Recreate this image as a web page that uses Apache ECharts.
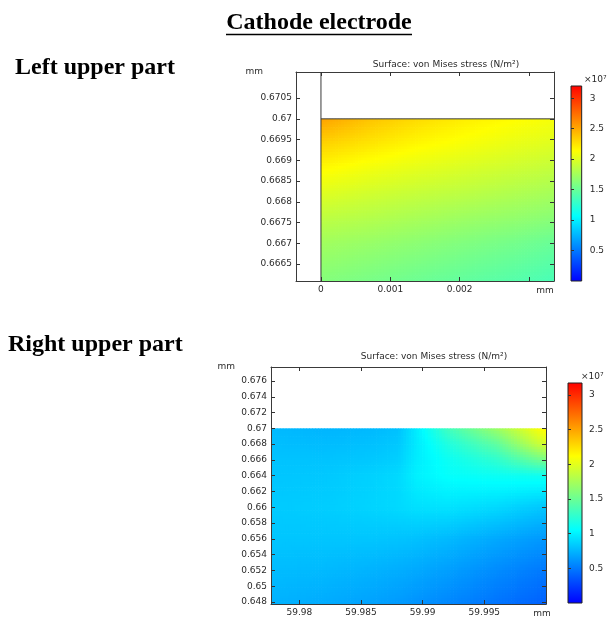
<!DOCTYPE html>
<html>
<head>
<meta charset="utf-8">
<script src="https://cdn.jsdelivr.net/npm/echarts@6/dist/echarts.min.js"></script>
<style>
  html, body { margin: 0; padding: 0; background: #ffffff; }
  #chart { width: 607px; height: 618px; }
</style>
</head>
<body>
<div id="chart"></div>
<script>
// Rainbow colour table used for the stress field and its colour bars
const colorStops = ['#0000ff', '#00ffff', '#ffff00', '#ff0000'];

// ---- Left upper part: von Mises stress (x10^7 N/m^2) on a node grid ----
const leftX = [0, 0.0007, 0.0014, 0.0021, 0.0028, 0.00336];           // mm
const leftY = [0.67, 0.6694, 0.6688, 0.6682, 0.6676, 0.667, 0.66609];  // mm
const leftStress = [
  [2.52, 2.38, 2.28, 2.20, 2.14, 2.10],
  [2.32, 2.24, 2.16, 2.10, 2.04, 2.00],
  [2.15, 2.08, 2.02, 1.97, 1.92, 1.88],
  [2.00, 1.94, 1.89, 1.85, 1.80, 1.76],
  [1.86, 1.82, 1.77, 1.72, 1.68, 1.64],
  [1.74, 1.70, 1.65, 1.60, 1.55, 1.50],
  [1.62, 1.57, 1.52, 1.47, 1.42, 1.37]
];
const leftXRange = [-0.00036, 0.00336];
const leftYRange = [0.66609, 0.67113];
const leftXTicks = [0, 0.001, 0.002, 0.003];
const leftXLabels = [0, 0.001, 0.002];
const leftYTicks = [0.6665, 0.667, 0.6675, 0.668, 0.6685, 0.669, 0.6695, 0.67, 0.6705];
const leftColorMax = 3.2;
// outline of the electrode corner
const leftEdgeVertical = [[0, 0.67113], [0, 0.66609]];
const leftEdgeTop = [[0, 0.67], [0.00336, 0.67]];

// ---- Right upper part ----
const rightX = [59.9777, 59.982, 59.986, 59.988, 59.9895, 59.992, 59.996, 60.0];
const rightY = [0.67, 0.668, 0.666, 0.664, 0.66, 0.656, 0.652, 0.64775];
const rightStress = [
  [0.77, 0.75, 0.77, 0.80, 0.98, 1.32, 1.70, 2.15],
  [0.79, 0.78, 0.80, 0.83, 0.97, 1.18, 1.45, 1.95],
  [0.81, 0.81, 0.83, 0.86, 0.98, 1.10, 1.25, 1.55],
  [0.82, 0.83, 0.87, 0.90, 1.00, 1.07, 1.10, 1.12],
  [0.84, 0.85, 0.88, 0.90, 0.93, 0.94, 0.90, 0.82],
  [0.82, 0.82, 0.82, 0.81, 0.80, 0.77, 0.70, 0.63],
  [0.78, 0.77, 0.74, 0.72, 0.70, 0.66, 0.58, 0.50],
  [0.74, 0.71, 0.67, 0.64, 0.61, 0.56, 0.48, 0.40]
];
const rightXRange = [59.9777, 60.0];
const rightYRange = [0.64775, 0.67777];
const rightXTicks = [59.98, 59.985, 59.99, 59.995, 60];
const rightXLabels = [59.98, 59.985, 59.99, 59.995];
const rightYTicks = [0.648, 0.65, 0.652, 0.654, 0.656, 0.658, 0.66, 0.662, 0.664, 0.666, 0.668, 0.67, 0.672, 0.674, 0.676];
const rightColorMax = 3.17;

// colour bar ticks (x10^7 N/m^2)
const colorTicks = [0.5, 1, 1.5, 2, 2.5, 3];

const labelColor = '#2a2a2a';
const smallFont = 'DejaVu Sans';

// split the node grid into cells: [x0, y0, x1, y1, v00, v10, v01, v11]
function buildCells(xs, ys, vals) {
  const cells = [];
  for (let r = 0; r < ys.length - 1; r++) {
    for (let c = 0; c < xs.length - 1; c++) {
      cells.push([xs[c], ys[r], xs[c + 1], ys[r + 1],
        vals[r][c], vals[r][c + 1], vals[r + 1][c], vals[r + 1][c + 1]]);
    }
  }
  return cells;
}

// shade each cell smoothly between its corner values
function fieldRenderer(vmax) {
  return function (params, api) {
    const p0 = api.coord([api.value(0), api.value(1)]);
    const p1 = api.coord([api.value(2), api.value(3)]);
    const a = api.value(4), b = api.value(5), c = api.value(6), d = api.value(7);
    const w = p1[0] - p0[0], h = p1[1] - p0[1];
    const nx = Math.max(1, Math.ceil(Math.abs(w) / 3));
    const ny = Math.max(1, Math.ceil(Math.abs(h) / 3));
    const children = [];
    for (let i = 0; i < nx; i++) {
      for (let j = 0; j < ny; j++) {
        const u = (i + 0.5) / nx, v = (j + 0.5) / ny;
        const val = a * (1 - u) * (1 - v) + b * u * (1 - v) + c * (1 - u) * v + d * u * v;
        children.push({
          type: 'rect',
          shape: { x: p0[0] + w * i / nx, y: p0[1] + h * j / ny, width: w / nx + 0.7, height: h / ny + 0.7 },
          style: { fill: echarts.color.lerp(Math.max(0, Math.min(1, val / vmax)), colorStops) }
        });
      }
    }
    return { type: 'group', children: children };
  };
}

function colorBarRenderer(params, api) {
  const p0 = api.coord([api.value(0), api.value(1)]);
  const p1 = api.coord([api.value(2), api.value(3)]);
  return {
    type: 'rect',
    shape: { x: p0[0], y: p1[1], width: p1[0] - p0[0], height: p0[1] - p1[1] },
    style: {
      fill: new echarts.graphic.LinearGradient(0, 1, 0, 0,
        colorStops.map((col, k) => ({ offset: k / (colorStops.length - 1), color: col }))),
      stroke: '#222', lineWidth: 1
    }
  };
}

const fmt = n => v => String(+(+v).toFixed(n));

function plotAxes(gridIndex, xr, yr, xTicks, xLabels, yTicks, xDigits, yDigits, xNameGap, yNamePad) {
  const line = { show: true, onZero: false, lineStyle: { color: '#3a3a3a', width: 1 } };
  const tick = vals => ({ show: true, inside: true, length: 4, customValues: vals, lineStyle: { color: '#333' } });
  return {
    x: [
      { type: 'value', gridIndex, position: 'bottom', min: xr[0], max: xr[1], z: 10,
        axisLine: line, axisTick: tick(xTicks), splitLine: { show: false },
        axisLabel: { customValues: xLabels, formatter: fmt(xDigits), color: labelColor, fontSize: 9, fontFamily: smallFont, margin: 4 },
        name: 'mm', nameLocation: 'end', nameGap: xNameGap,
        nameTextStyle: { color: labelColor, fontSize: 9, fontFamily: smallFont, align: 'center', verticalAlign: 'top', padding: [5, 0, 0, 0] } },
      { type: 'value', gridIndex, position: 'top', min: xr[0], max: xr[1], z: 10,
        axisLine: line, axisTick: tick(xTicks), axisLabel: { show: false }, splitLine: { show: false } }
    ],
    y: [
      { type: 'value', gridIndex, position: 'left', min: yr[0], max: yr[1], z: 10,
        axisLine: line, axisTick: tick(yTicks), splitLine: { show: false },
        axisLabel: { customValues: yTicks, formatter: fmt(yDigits), color: labelColor, fontSize: 9, fontFamily: smallFont, margin: 4 },
        name: 'mm', nameLocation: 'end', nameGap: 0,
        nameTextStyle: { color: labelColor, fontSize: 9, fontFamily: smallFont, align: 'right', verticalAlign: 'middle', padding: [0, yNamePad, 0, 0] } },
      { type: 'value', gridIndex, position: 'right', min: yr[0], max: yr[1], z: 10,
        axisLine: line, axisTick: tick(yTicks), axisLabel: { show: false }, splitLine: { show: false } }
    ]
  };
}

function barAxes(gridIndex, vmax, margin) {
  return {
    x: [{ type: 'value', gridIndex, min: 0, max: 1, show: false }],
    y: [{ type: 'value', gridIndex, position: 'right', min: 0, max: vmax, z: 10,
      axisLine: { show: false }, splitLine: { show: false },
      axisTick: { show: true, length: 3, customValues: colorTicks, lineStyle: { color: '#333' } },
      axisLabel: { customValues: colorTicks, color: labelColor, fontSize: 9, fontFamily: smallFont, margin: margin } }]
  };
}

const a0 = plotAxes(0, leftXRange, leftYRange, leftXTicks, leftXLabels, leftYTicks, 3, 4, -9, 33);
const a1 = barAxes(1, leftColorMax, 8);
const a2 = plotAxes(2, rightXRange, rightYRange, rightXTicks, rightXLabels, rightYTicks, 3, 3, -4, 36);
const a3 = barAxes(3, rightColorMax, 7);

const xAxes = [...a0.x, ...a1.x, ...a2.x, ...a3.x];   // indices 0,1 | 2 | 3,4 | 5
const yAxes = [...a0.y, ...a1.y, ...a2.y, ...a3.y];   // indices 0,1 | 2 | 3,4 | 5

const headingFont = 'bold 24px "Liberation Serif", "Times New Roman", serif';
const titleText = 'Surface: von Mises stress (N/m²)';

const option = {
  animation: false,
  backgroundColor: '#ffffff',
  grid: [
    { left: 296, top: 72, width: 258, height: 209 },
    { left: 571, top: 86, width: 14, height: 195 },
    { left: 271, top: 367, width: 275, height: 238 },
    { left: 568, top: 383, width: 14, height: 220 }
  ],
  xAxis: xAxes,
  yAxis: yAxes,
  series: [
    { type: 'custom', xAxisIndex: 0, yAxisIndex: 0, z: 2, silent: true,
      renderItem: fieldRenderer(leftColorMax), data: buildCells(leftX, leftY, leftStress) },
    { type: 'line', xAxisIndex: 0, yAxisIndex: 0, z: 5, symbol: 'none', silent: true,
      lineStyle: { color: '#3a3a3a', width: 1 }, data: leftEdgeVertical },
    { type: 'line', xAxisIndex: 0, yAxisIndex: 0, z: 5, symbol: 'none', silent: true,
      lineStyle: { color: '#3a3a3a', width: 1 }, data: leftEdgeTop },
    { type: 'custom', xAxisIndex: 2, yAxisIndex: 2, z: 2, silent: true,
      renderItem: colorBarRenderer, data: [[0, 0, 1, leftColorMax]] },
    { type: 'custom', xAxisIndex: 3, yAxisIndex: 3, z: 2, silent: true,
      renderItem: fieldRenderer(rightColorMax), data: buildCells(rightX, rightY, rightStress) },
    { type: 'custom', xAxisIndex: 5, yAxisIndex: 5, z: 2, silent: true,
      renderItem: colorBarRenderer, data: [[0, 0, 1, rightColorMax]] }
  ],
  graphic: [
    { type: 'text', x: 319, y: 23, style: { text: 'Cathode electrode', font: headingFont, fill: '#000', align: 'center', verticalAlign: 'middle' } },
    { type: 'line', shape: { x1: 226, y1: 34.5, x2: 412, y2: 34.5 }, style: { stroke: '#000', lineWidth: 1.5 } },
    { type: 'text', x: 15, y: 68, style: { text: 'Left upper part', font: headingFont, fill: '#000', align: 'left', verticalAlign: 'middle' } },
    { type: 'text', x: 8, y: 345, style: { text: 'Right upper part', font: headingFont, fill: '#000', align: 'left', verticalAlign: 'middle' } },
    { type: 'text', x: 446, y: 65, style: { text: titleText, font: '9px "DejaVu Sans"', fill: labelColor, align: 'center', verticalAlign: 'middle' } },
    { type: 'text', x: 434, y: 357, style: { text: titleText, font: '9px "DejaVu Sans"', fill: labelColor, align: 'center', verticalAlign: 'middle' } },
    { type: 'text', x: 584, y: 80, style: { text: '×10⁷', font: '9px "DejaVu Sans"', fill: labelColor, align: 'left', verticalAlign: 'middle' } },
    { type: 'text', x: 581, y: 377, style: { text: '×10⁷', font: '9px "DejaVu Sans"', fill: labelColor, align: 'left', verticalAlign: 'middle' } }
  ]
};

const chart = echarts.init(document.getElementById('chart'), null, { renderer: 'canvas' });
chart.setOption(option);
</script>
</body>
</html>
